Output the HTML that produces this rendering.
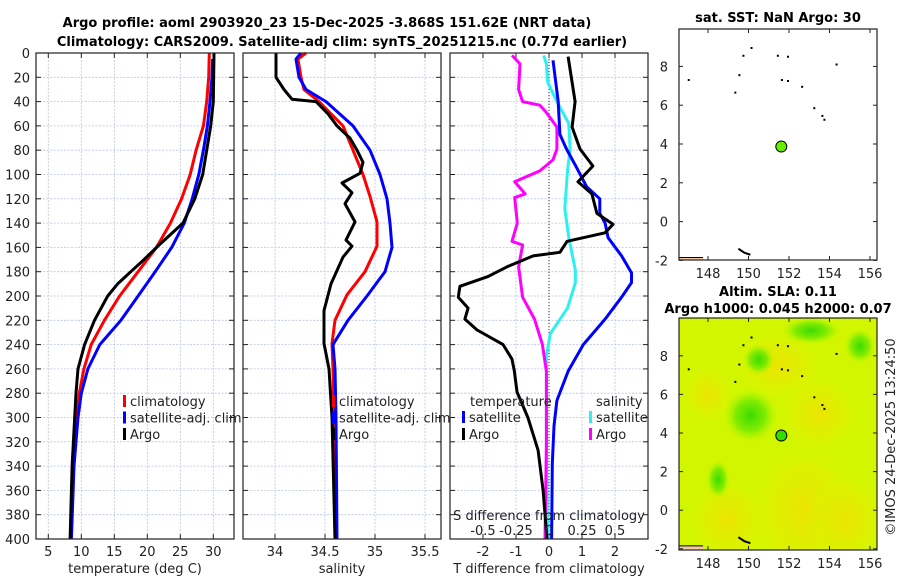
<!DOCTYPE html>
<html><head><meta charset="utf-8"><style>
body{margin:0;background:#fff;}
svg{display:block;font-family:"DejaVu Sans","Liberation Sans",sans-serif;}
</style></head><body>
<svg id="chart" width="900" height="580" viewBox="0 0 900 580" xmlns="http://www.w3.org/2000/svg">
<defs>
<radialGradient id="gG" cx="50%" cy="50%" r="50%"><stop offset="0" stop-color="#3cdc00"/><stop offset="0.55" stop-color="#84ec00"/><stop offset="1" stop-color="#c0f800" stop-opacity="0"/></radialGradient>
<radialGradient id="gY" cx="50%" cy="50%" r="50%"><stop offset="0" stop-color="#ece400"/><stop offset="0.6" stop-color="#e0ee00" stop-opacity="0.7"/><stop offset="1" stop-color="#d8f800" stop-opacity="0"/></radialGradient>
<clipPath id="clipMap2"><rect x="679" y="318" width="198" height="232"/></clipPath>
</defs>
<g id="root"></g>
</svg>
<script>
// ---- depth grid & profile data ----
const tClimDepth = [0,20,40,60,80,100,120,140,160,180,200,220,240,260,280,300,340,400];
const tClimVals  = [29.4,29.3,29.0,28.5,27.4,26.5,25.2,23.5,21.4,18.6,15.8,13.5,11.5,10.4,9.7,9.3,8.8,8.4];
const tSatDepth  = [5,20,40,60,80,100,120,140,160,180,200,220,240,260,280,300,340,400];
const tSatVals   = [29.9,29.8,29.5,29.1,28.5,27.8,26.8,25.6,23.7,21.2,18.6,16.0,12.8,11.0,10.0,9.5,8.9,8.5];
const tArgoDepth = [0,40,60,80,100,120,140,160,170,180,190,200,220,240,260,280,300,340,400];
const tArgoVals  = [30.1,30.0,29.6,29.0,28.4,27.2,25.4,21.4,19.5,17.5,15.5,14.0,12.0,10.5,9.5,9.2,9.0,8.6,8.3];

const sClimDepth = [0,5,20,30,40,60,80,100,118,139,159,180,199,220,239,260,300,400];
const sClimVals  = [34.31,34.23,34.26,34.29,34.44,34.68,34.78,34.88,34.95,35.02,35.02,34.90,34.72,34.60,34.57,34.58,34.59,34.60];
const sSatDepth  = [0,5,20,30,40,60,80,100,120,140,160,180,200,220,240,260,300,400];
const sSatVals   = [34.26,34.21,34.24,34.31,34.51,34.78,34.95,35.05,35.12,35.15,35.17,35.10,34.92,34.73,34.58,34.60,34.61,34.62];
const sArgoDepth = [0,20,30,38,40,50,60,70,80,90,99,107,115,124,139,154,159,168,190,212,239,260,300,400];
const sArgoVals  = [34.01,34.01,34.09,34.17,34.41,34.53,34.62,34.75,34.82,34.88,34.85,34.67,34.77,34.70,34.80,34.71,34.77,34.68,34.56,34.49,34.49,34.54,34.57,34.60];

const dTArgoDepth = [3,40,61,79,93,106,116,132,141,148,155,164,167,176,184,192,201,210,219,228,240,252,262,279,300,327,360,400];
const dTArgoVals  = [0.58,0.79,0.70,0.94,1.33,0.88,1.30,1.45,1.94,1.70,0.55,0.33,-0.48,-1.27,-1.85,-2.70,-2.75,-2.45,-2.55,-2.18,-1.39,-1.12,-1.05,-0.97,-0.64,-0.33,-0.18,-0.06];
const dTSatDepth  = [6,40,67,79,94,110,120,132,140,152,167,181,189,201,219,240,262,286,307,338,400];
const dTSatVals   = [0.12,0.28,0.33,0.53,0.83,1.14,1.54,1.54,1.70,1.79,2.20,2.50,2.50,2.20,1.70,1.04,0.58,0.24,0.15,0.10,0.08];
const dSArgoDepth = [2,9,30,40,43,49,61,79,88,97,106,116,119,140,155,158,176,201,219,240,262,322,400];
const dSArgoVals  = [-0.28,-0.22,-0.23,-0.20,-0.07,-0.02,0.06,0.06,0.03,-0.07,-0.26,-0.18,-0.26,-0.24,-0.28,-0.20,-0.23,-0.20,-0.11,-0.05,-0.02,-0.02,-0.03];
const dSSatDepth  = [2,9,24,40,58,79,97,128,152,179,189,210,231,249,322,400];
const dSSatVals   = [-0.04,-0.02,-0.01,0.06,0.15,0.16,0.14,0.12,0.15,0.20,0.20,0.14,0.01,-0.02,-0.02,-0.01];

const depthTicks = [0,20,40,60,80,100,120,140,160,180,200,220,240,260,280,300,320,340,360,380,400];
const tempTicks = [5,10,15,20,25,30];
const salTicks = [34,34.5,35,35.5];
const dTTicks = [-2,-1,0,1,2];
const dSTickVals = [-0.5,-0.25,0,0.25,0.5];
const latTicks = [-2,0,2,4,6,8];
const lonTicks = [148,150,152,154,156];
const argoPos = [151.62,3.868];
const islands = [[150.1,9.0],[149.7,8.6],[151.4,8.6],[151.9,8.55],[154.3,8.15],[149.5,7.6],[147.0,7.35],[151.6,7.35],[151.9,7.3],[152.6,7.0],[149.3,6.7],[153.2,5.9],[153.6,5.5],[153.7,5.3]];

const NS='http://www.w3.org/2000/svg';
const root=document.getElementById('root');
function el(tag,attrs,parent){const e=document.createElementNS(NS,tag);for(const k in attrs)e.setAttribute(k,attrs[k]);(parent||root).appendChild(e);return e;}
function txt(s,x,y,attrs,parent){const t=el('text',Object.assign({x:x,y:y,'font-size':13,fill:'#222'},attrs||{}),parent);t.textContent=s;return t;}

const Y0=53,Y1=539;
const yD=d=>Y0+d*(Y1-Y0)/400;
const P={t:{x0:36,x1:234,f:v=>48.3+(v-5)*6.6},s:{x0:243,x1:441,f:v=>275+(v-34)*100},d:{x0:450,x1:648,f:v=>549+v*33}};
const xS=v=>549+v*132;

// titles
let tt=txt('Argo profile: aoml 2903920_23 15-Dec-2025 -3.868S 151.62E (NRT data)',327,27,{'text-anchor':'middle','font-weight':'bold','font-size':13,fill:'#000'});

tt=txt('Climatology: CARS2009. Satellite-adj clim: synTS_20251215.nc (0.77d earlier)',342,46,{'text-anchor':'middle','font-weight':'bold','font-size':13,fill:'#000'});


function panel(p,name,xticks,xf){
  const g=el('g',{});
  
  
  el('rect',{x:p.x0,y:Y0,width:p.x1-p.x0,height:Y1-Y0,fill:'#fff'},g);
  depthTicks.forEach(d=>{el('line',{x1:p.x0,x2:p.x1,y1:yD(d),y2:yD(d),stroke:'#b8c4e8','stroke-width':0.8,'stroke-dasharray':'2,1.5'},g);
    el('line',{x1:p.x0,x2:p.x0+5,y1:yD(d),y2:yD(d),stroke:'#222'},g);el('line',{x1:p.x1-5,x2:p.x1,y1:yD(d),y2:yD(d),stroke:'#222'},g);});
  xticks.forEach(v=>{const x=xf(v);el('line',{x1:x,x2:x,y1:Y0,y2:Y1,stroke:'#b8c4e8','stroke-width':0.8,'stroke-dasharray':'2,1.5'},g);
    el('line',{x1:x,x2:x,y1:Y1-5,y2:Y1,stroke:'#222'},g);el('line',{x1:x,x2:x,y1:Y0,y2:Y0+5,stroke:'#222'},g);});
  return g;
}
function frame(p,g){el('rect',{x:p.x0,y:Y0,width:p.x1-p.x0,height:Y1-Y0,fill:'none',stroke:'#222','stroke-width':1.2},g);}
function curve(depths,vals,xf,color,name,g,w){
  const pts=depths.map((d,i)=>xf(vals[i]).toFixed(1)+','+yD(d).toFixed(1)).join(' ');
  const c=el('polyline',{points:pts,fill:'none',stroke:color,'stroke-width':w||3,'stroke-linejoin':'round'},g);
  
  
}
function legend(items,x,g){items.forEach((it,i)=>{const y=401+i*16.5;el('rect',{x:x,y:y-6,width:3,height:12,fill:it[1]},g);
  const t=txt(it[0],x+7,y+5,{'font-size':13},g);});}

// Panel 1 temperature
const g1=panel(P.t,'temperature-panel',tempTicks,P.t.f);
curve(tClimDepth,tClimVals,P.t.f,'#f00','temp-climatology-line',g1);
curve(tSatDepth,tSatVals,P.t.f,'#00f','temp-satellite-line',g1);
curve(tArgoDepth,tArgoVals,P.t.f,'#000','temp-argo-line',g1);
frame(P.t,g1);
depthTicks.forEach(d=>{const t=txt(String(d),30,yD(d)+5,{'text-anchor':'end'});});
tempTicks.forEach(v=>{const t=txt(String(v),P.t.f(v),556,{'text-anchor':'middle'});});
tt=txt('temperature (deg C)',135,573,{'text-anchor':'middle'});

// Panel 2 salinity
const g2=panel(P.s,'salinity-panel',salTicks,P.s.f);
curve(sClimDepth,sClimVals,P.s.f,'#f00','sal-climatology-line',g2);
curve(sSatDepth,sSatVals,P.s.f,'#00f','sal-satellite-line',g2);
curve(sArgoDepth,sArgoVals,P.s.f,'#000','sal-argo-line',g2);
frame(P.s,g2);
salTicks.forEach(v=>{const t=txt(String(v),P.s.f(v),556,{'text-anchor':'middle'});});
tt=txt('salinity',342,573,{'text-anchor':'middle'});
legend([['climatology','#f00'],['satellite-adj. clim','#00f'],['Argo','#000']],123,g1);
legend([['climatology','#f00'],['satellite-adj. clim','#00f'],['Argo','#000']],332,g2);

// Panel 3 differences
const g3=panel(P.d,'difference-panel',dTTicks,P.d.f);
el('line',{x1:549,x2:549,y1:Y0,y2:Y1,stroke:'#333','stroke-width':1,'stroke-dasharray':'1,2'},g3);
curve(dSSatDepth,dSSatVals,xS,'#2ef0f0','sal-diff-satellite-line',g3);
curve(dSArgoDepth,dSArgoVals,xS,'#f0f','sal-diff-argo-line',g3);
curve(dTSatDepth,dTSatVals,P.d.f,'#00f','temp-diff-satellite-line',g3);
curve(dTArgoDepth,dTArgoVals,P.d.f,'#000','temp-diff-argo-line',g3);
frame(P.d,g3);
tt=txt('temperature',470,406,{},g3);
tt=txt('salinity',596,406,{},g3);
[['satellite','#00f',462,417],['Argo','#000',462,434],['satellite','#2ef0f0',589,417],['Argo','#f0f',589,434]].forEach(it=>{
  el('rect',{x:it[2],y:it[3]-6,width:3,height:12,fill:it[1]},g3);
  const t=txt(it[0],it[2]+7,it[3]+5,{},g3);});
tt=txt('S difference from climatology',549,520,{'text-anchor':'middle'});
dSTickVals.forEach(v=>{const t=txt(String(v),xS(v),535,{'text-anchor':'middle'});});
dTTicks.forEach(v=>{const t=txt(String(v),P.d.f(v),556,{'text-anchor':'middle'});});
tt=txt('T difference from climatology',549,573,{'text-anchor':'middle'});

// Maps
const lonX=v=>708+(v-148)*20.25;
function map(name,y0,y1,latY,field){
  const g=el('g',{});
  
  
  el('rect',{x:679,y:y0,width:198,height:y1-y0,fill:field?'#d2f600':'#fff'},g);
  if(field){
    const f=el('g',{'clip-path':'url(#clipMap2)'},g);
    [[152.8,0,60,70,'gY'],[154.8,-0.5,40,50,'gY'],[149,-0.5,40,45,'gY'],[151.5,7.5,45,35,'gY'],[153.5,5,40,40,'gY'],[148,6,25,30,'gY'],
     [150.1,4.9,28,28,'gG'],[153.1,9.3,30,14,'gG'],[148.5,1.6,12,20,'gG'],[150.5,7.8,16,16,'gG'],[155.5,8.5,16,18,'gG']].forEach(b=>{
      el('ellipse',{cx:lonX(b[0]),cy:latY(b[1]),rx:b[2],ry:b[3],fill:'url(#'+b[4]+')'},f);});
  }
  islands.forEach(p=>el('rect',{x:lonX(p[0]),y:latY(p[1]),width:2,height:2,fill:'#000'},g));
  el('path',{d:`M${lonX(149.5)},${latY(-1.4)} l6,4 l6,2`,stroke:'#000','stroke-width':2,fill:'none'},g);
  el('rect',{x:679,y:latY(-1.85),width:24,height:y1-latY(-1.85),fill:'#f4c8a0'},g);
  el('line',{x1:679,x2:703,y1:latY(-1.85),y2:latY(-1.85),stroke:'#000','stroke-width':1},g);
  const c=el('circle',{cx:lonX(argoPos[0]),cy:latY(argoPos[1]),r:5.5,fill:field?'#33dd00':'#66ee00',stroke:'#000','stroke-width':1},g);
  
  
  el('rect',{x:679,y:y0,width:198,height:y1-y0,fill:'none',stroke:'#222','stroke-width':1.2},g);
  latTicks.forEach(v=>{const y=latY(v);el('line',{x1:679,x2:683,y1:y,y2:y,stroke:'#222'},g);el('line',{x1:873,x2:877,y1:y,y2:y,stroke:'#222'},g);
    const t=txt(String(v),668,y+5,{'text-anchor':'end'},g);});
  lonTicks.forEach(v=>{const x=lonX(v);el('line',{x1:x,x2:x,y1:y1-4,y2:y1,stroke:'#222'},g);el('line',{x1:x,x2:x,y1:y0,y2:y0+4,stroke:'#222'},g);
    const t=txt(String(v),x,y1+18,{'text-anchor':'middle'},g);});
  return g;
}
map('sst-map',29,260,v=>144-(v-4)*19.4,false);
map('sla-map',318,550,v=>433-(v-4)*19.3,true);
tt=txt('sat. SST: NaN Argo: 30',778,22,{'text-anchor':'middle','font-weight':'bold',fill:'#000'});
tt=txt('Altim. SLA: 0.11',778,296,{'text-anchor':'middle','font-weight':'bold',fill:'#000'});
tt=txt('Argo h1000: 0.045 h2000: 0.07',778,313,{'text-anchor':'middle','font-weight':'bold',fill:'#000'});
tt=txt('©IMOS 24-Dec-2025 13:24:50',0,0,{'text-anchor':'middle',transform:'translate(895,437) rotate(-90)'});
</script>
</body></html>
